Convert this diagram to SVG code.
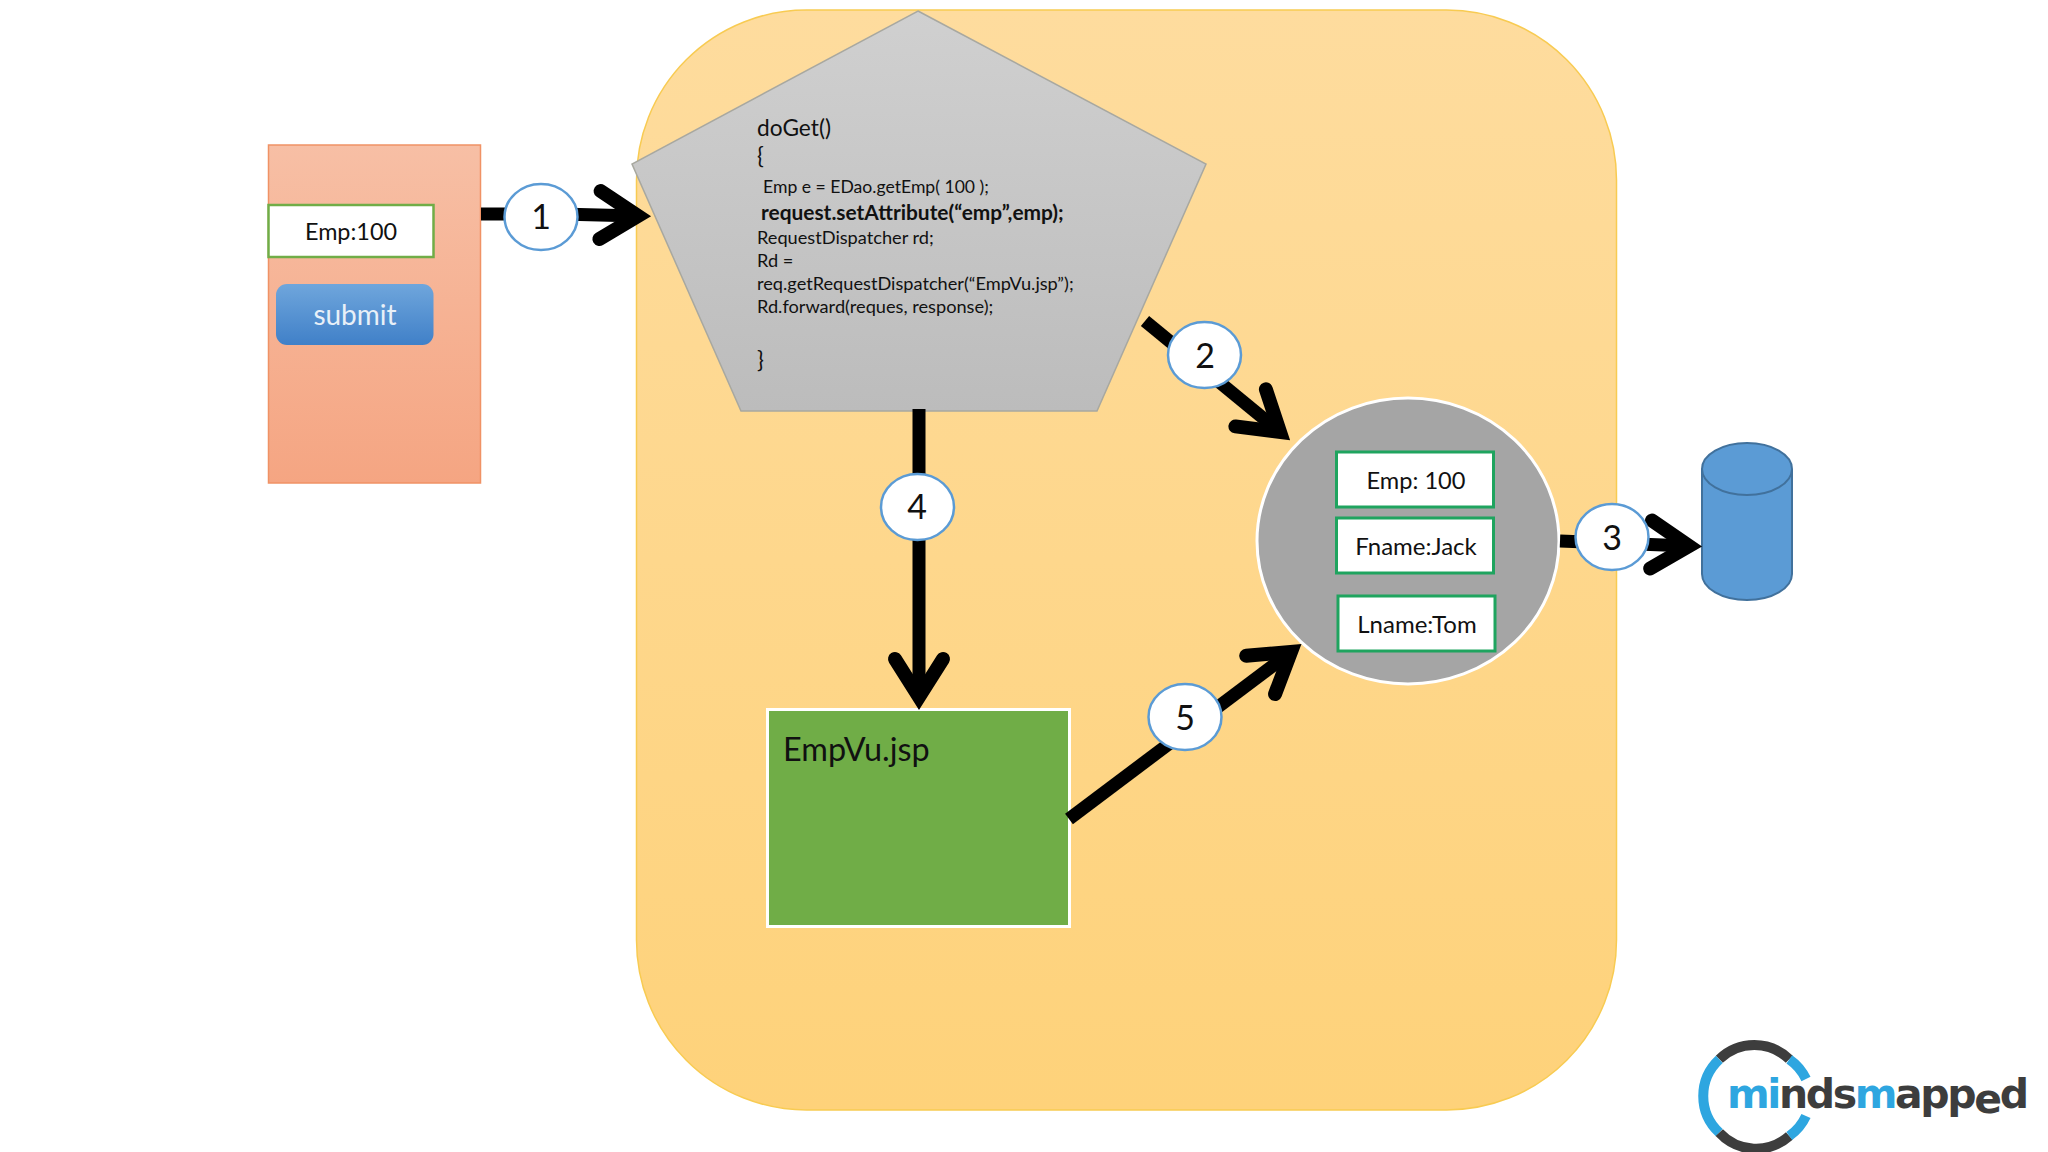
<svg xmlns="http://www.w3.org/2000/svg" width="2048" height="1152" viewBox="0 0 2048 1152">
<style>
text{font-family:"Lato","Carlito","Liberation Sans",sans-serif;fill:#111}
.line{fill:none;stroke:#000;stroke-width:13;marker-end:url(#head)}
.num{fill:#fff;stroke:#5b9bd5;stroke-width:2.5}
.numt{font-size:34px;text-anchor:middle}
.field{fill:#fff;stroke:#1fa45f;stroke-width:3}
.fieldt{font-size:24px;text-anchor:middle}
.code{font-size:18.2px}
.big{font-size:22.700px}
</style>
<defs>
<marker id="head" markerUnits="userSpaceOnUse" markerWidth="100" markerHeight="100" viewBox="-70 -50 100 100" refX="0" refY="0" orient="auto">
<path d="M-38,-24 L0,0 L-38,24" fill="none" stroke="#000" stroke-width="14" stroke-linecap="round" stroke-linejoin="miter"/>
</marker>
<linearGradient id="gPanel" x1="0" y1="0" x2="0" y2="1"><stop offset="0" stop-color="#fedc9e"/><stop offset="1" stop-color="#fed27a"/></linearGradient>
<linearGradient id="gForm" x1="0" y1="0" x2="0" y2="1"><stop offset="0" stop-color="#f7bfa5"/><stop offset="1" stop-color="#f5a582"/></linearGradient>
<linearGradient id="gPent" x1="0" y1="0" x2="0" y2="1"><stop offset="0" stop-color="#d0d0d0"/><stop offset="1" stop-color="#bcbcbc"/></linearGradient>
<linearGradient id="gBtn" x1="0" y1="0" x2="0" y2="1"><stop offset="0" stop-color="#6fa6dc"/><stop offset="1" stop-color="#4080c8"/></linearGradient>
</defs>
<g id="panel"><rect x="636.5" y="10" width="980" height="1100" rx="170" ry="170" fill="url(#gPanel)" stroke="#f8cb52" stroke-width="1.5"/></g>
<g id="form">
<rect x="268.500" y="145" width="212" height="338" fill="url(#gForm)" stroke="#f09265" stroke-width="1.5"/>
</g>
<g id="empfield">
<rect x="268.500" y="205" width="165" height="52" fill="#fff" stroke="#70ad47" stroke-width="2.5"/>
<text x="351" y="240" font-size="23.400px" text-anchor="middle">Emp:100</text>
</g>
<g id="submit">
<rect x="276" y="284" width="157.500" height="61" rx="11" fill="url(#gBtn)"/>
<text x="355" y="325" font-size="28px" text-anchor="middle" style="fill:#e8f0f8">submit</text>
</g>
<g id="servlet">
<polygon points="918,11 1206,164 1097,411 741,411 632,164" fill="url(#gPent)" stroke="#a8a8a0" stroke-width="1.500"/>
<text class="big" x="757" y="136">doGet()</text>
<text class="big" x="757" y="164">{</text>
<text class="code" x="763" y="193" style="font-size:17.6px">Emp e = EDao.getEmp( 100 );</text>
<text class="code" x="761" y="220" font-weight="700" style="font-size:20.9px">request.setAttribute(“emp”,emp);</text>
<text class="code" x="757" y="244">RequestDispatcher rd;</text>
<text class="code" x="757" y="267">Rd =</text>
<text class="code" x="757" y="290">req.getRequestDispatcher(“EmpVu.jsp”);</text>
<text class="code" x="757" y="313">Rd.forward(reques, response);</text>
<text class="big" x="757" y="368">}</text>
</g>
<g id="bean">
<ellipse cx="1408" cy="541" rx="151" ry="143" fill="#a5a5a5" stroke="#fff" stroke-width="3"/>
</g>
<g id="f-emp"><rect class="field" x="1336.500" y="452" width="157" height="55"/><text class="fieldt" x="1416" y="489" style="font-size:23.6px">Emp: 100</text></g>
<g id="f-fname"><rect class="field" x="1336.500" y="518" width="157" height="55"/><text class="fieldt" x="1416" y="555">Fname:Jack</text></g>
<g id="f-lname"><rect class="field" x="1338" y="596" width="157" height="55"/><text class="fieldt" x="1417" y="633">Lname:Tom</text></g>
<g id="db">
<path d="M1702,469 V574 A45,26 0 0 0 1792,574 V469 A45,26 0 0 0 1702,469 Z" fill="#5b9bd5" stroke="#41719c" stroke-width="2"/>
<path d="M1702,469 A45,26 0 0 0 1792,469" fill="none" stroke="#41719c" stroke-width="2"/>
</g>
<g id="jsp">
<rect x="767.500" y="709.500" width="302" height="217" fill="#70ad47" stroke="#fff" stroke-width="3"/>
<text x="783" y="761" font-size="32.400px">EmpVu.jsp</text>
</g>
<g id="connectors">
<path class="line" d="M481,214 H560 L638,216"/>
<path class="line" d="M1145,321 L1280,432"/>
<path class="line" d="M1560,541 L1689,546"/>
<path class="line" d="M919,409 V697"/>
<path class="line" d="M1069,819 L1291,652"/>
</g>
<g id="n1"><ellipse class="num" cx="541" cy="217" rx="36.500" ry="33"/><text class="numt" x="541" y="229">1</text></g>
<g id="n2"><ellipse class="num" cx="1204.500" cy="355" rx="36.500" ry="33"/><text class="numt" x="1205" y="368">2</text></g>
<g id="n3"><ellipse class="num" cx="1612" cy="537" rx="36.500" ry="33"/><text class="numt" x="1612" y="550">3</text></g>
<g id="n4"><ellipse class="num" cx="917.500" cy="507" rx="36.500" ry="33"/><text class="numt" x="917" y="519">4</text></g>
<g id="n5"><ellipse class="num" cx="1185" cy="717" rx="36.500" ry="33"/><text class="numt" x="1185" y="730">5</text></g>
<g id="logo">
<g fill="none" stroke-width="10" transform="translate(1,1)">
<path d="M1718.300,1058.300 A50,50 0 0 1 1788.300,1058.300" stroke="#3d3d3d"/>
<path d="M1788.300,1058.300 A50,50 0 0 1 1805,1078" stroke="#2ea6e0"/>
<path d="M1718.300,1058.300 A50,50 0 0 0 1718.300,1131.700" stroke="#2ea6e0"/>
<path d="M1718.300,1131.700 A50,50 0 0 0 1788.300,1135" stroke="#3d3d3d"/>
<path d="M1788.300,1135 A50,50 0 0 0 1805,1115" stroke="#2ea6e0"/>
</g>
<text x="1727" y="1108" font-size="41px" font-weight="700" textLength="302" lengthAdjust="spacing" style="font-family:'DejaVu Sans',sans-serif;fill:#3d3d3d"><tspan style="fill:#2ea6e0">mi</tspan>nds<tspan style="fill:#2ea6e0">m</tspan>app<tspan dy="5">e</tspan><tspan dy="-5">d</tspan></text>
</g>
</svg>
